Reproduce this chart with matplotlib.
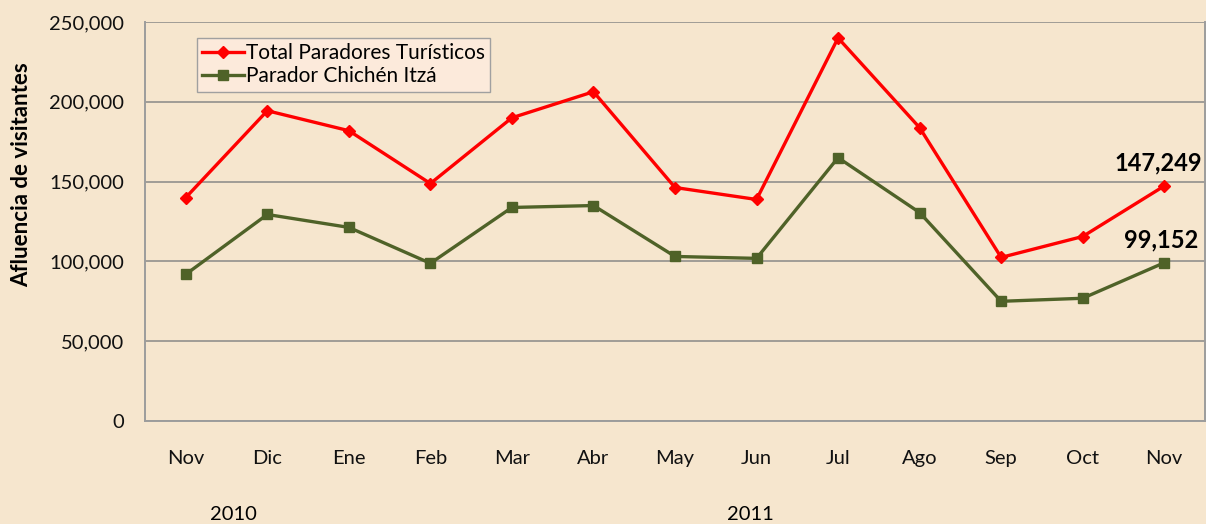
import matplotlib
matplotlib.use("Agg")
from matplotlib import pyplot as plt
from matplotlib.ticker import FuncFormatter

months = ["Nov", "Dic", "Ene", "Feb", "Mar", "Abr", "May", "Jun",
          "Jul", "Ago", "Sep", "Oct", "Nov"]
total_paradores = [140000, 194400, 181900, 148800, 190000, 206300, 146300,
                   138800, 240000, 183800, 102500, 115600, 147249]
chichen_itza = [91900, 129400, 121300, 98800, 133800, 135000, 103100,
                101900, 165000, 130600, 75000, 76900, 99152]
years = ["2010", "2011"]

bg = "#F6E6CE"
red = "#FF0000"
green = "#4F6228"

plt.rcParams["font.family"] = ["Lato", "DejaVu Sans"]

fig = plt.figure(figsize=(12.06, 5.24), dpi=100, facecolor=bg)
ax = fig.add_axes([145 / 1206, 103 / 524, 1060 / 1206, 399 / 524])
ax.set_facecolor(bg)

x = list(range(len(months)))
ax.plot(x, total_paradores, color=red, lw=2.4, marker="D", ms=6.5,
        label="Total Paradores Turísticos", zorder=3)
ax.plot(x, chichen_itza, color=green, lw=2.4, marker="s", ms=7.5,
        label="Parador Chichén Itzá", zorder=3)

ax.set_xlim(-0.5, len(months) - 0.5)
ax.set_ylim(0, 250000)
ax.set_yticks(range(0, 250001, 50000))
ax.yaxis.set_major_formatter(FuncFormatter(lambda v, p: f"{int(v):,}"))
ax.set_xticks(x)
ax.set_xticklabels(months)
ax.tick_params(axis="both", length=0, labelsize=14.5, colors="#111111")
ax.tick_params(axis="x", pad=21)
ax.tick_params(axis="y", pad=15)

ax.grid(axis="y", color="#A09C96", lw=1.4)
ax.set_axisbelow(True)
ax.spines["top"].set_visible(False)
for s in ["left", "bottom", "right"]:
    ax.spines[s].set_color("#9C9C9C")
    ax.spines[s].set_linewidth(1.4)

# last-point labels
ax.annotate(f"{total_paradores[-1]:,}", (x[-1], total_paradores[-1]),
            xytext=(-4, 11), textcoords="offset points", ha="center",
            fontsize=17, fontweight="bold")
ax.annotate(f"{chichen_itza[-1]:,}", (x[-1], chichen_itza[-1]),
            xytext=(-2, 11), textcoords="offset points", ha="center",
            fontsize=17, fontweight="bold")

leg = ax.legend(loc="upper left", bbox_to_anchor=(52 / 1060, 1 - 16 / 399),
                frameon=True, fancybox=False, fontsize=15,
                handlelength=2.0, handletextpad=0.1, borderpad=0.25,
                labelspacing=0.15, borderaxespad=0)
leg.get_frame().set_facecolor("#FCEADB")
leg.get_frame().set_edgecolor("#A0A0A0")
leg.get_frame().set_alpha(1)

fig.text(22 / 1206, 1 - 175 / 524, "Afluencia de visitantes", rotation=90,
         ha="center", va="center", fontsize=16, fontweight="bold")
fig.text(233 / 1206, 1 - 514 / 524, years[0], ha="center", va="center",
         fontsize=14.5)
fig.text(750 / 1206, 1 - 514 / 524, years[1], ha="center", va="center",
         fontsize=14.5)

plt.savefig("out.png", dpi=100, facecolor=bg)
